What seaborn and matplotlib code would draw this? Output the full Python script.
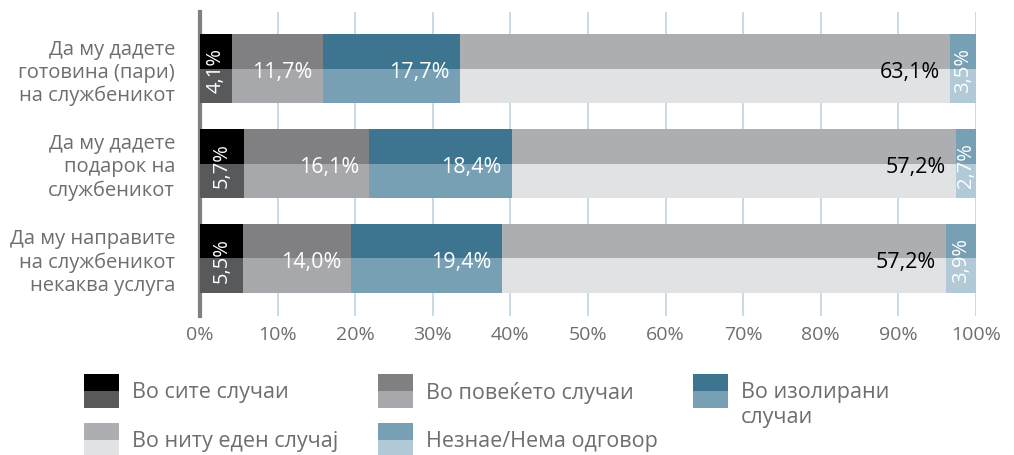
import numpy as np
import pandas as pd
import seaborn as sns
import matplotlib.pyplot as plt
from matplotlib.patches import Rectangle

# податоци
questions = ['Да му дадете\nготовина (пари)\nна службеникот',
             'Да му дадете\nподарок на\nслужбеникот',
             'Да му направите\nна службеникот\nнекаква услуга']
categories = ['Во сите случаи', 'Во повеќето случаи', 'Во изолирани\nслучаи',
              'Во ниту еден случај', 'Незнае/Нема одговор']
values = np.array([[4.1, 11.7, 17.7, 63.1, 3.5],
                   [5.7, 16.1, 18.4, 57.2, 2.7],
                   [5.5, 14.0, 19.4, 57.2, 3.9]])
labels = [['4,1%', '11,7%', '17,7%', '63,1%', '3,5%'],
          ['5,7%', '16,1%', '18,4%', '57,2%', '2,7%'],
          ['5,5%', '14,0%', '19,4%', '57,2%', '3,9%']]
top_colors = ['#000000', '#808083', '#3d7590', '#adaeb1', '#77a0b5']
bottom_colors = ['#58595b', '#a7a8ab', '#77a0b5', '#e1e2e4', '#b2cad7']
label_colors = ['white', 'white', 'white', 'black', 'white']
rotated = [True, False, False, False, True]

sns.set_theme(style='white')
plt.rcParams['font.family'] = ['Open Sans', 'DejaVu Sans']
grey = '#6d6e71'

W, H = 1014, 455
fig = plt.figure(figsize=(W / 100, H / 100), dpi=100)
ax = fig.add_axes([200 / W, 1 - 316 / H, 776 / W, 304 / H])

cum = values.cumsum(axis=1)
left = cum - values

# слоеви од последниот кон првиот, секој со горна/долна половина
for j in range(len(categories) - 1, -1, -1):
    df = pd.DataFrame({
        'q': np.repeat(questions, 2),
        'half': ['top', 'bottom'] * len(questions),
        'v': np.repeat(cum[:, j], 2),
    })
    sns.barplot(data=df, x='v', y='q', hue='half', hue_order=['top', 'bottom'],
                palette=[top_colors[j], bottom_colors[j]], orient='h',
                width=0.73, dodge=True, saturation=1, linewidth=0,
                legend=False, ax=ax, zorder=3)

# етикети
for i in range(len(questions)):
    for j in range(len(categories)):
        if rotated[j]:
            ax.text(left[i, j] + values[i, j] / 2, i + 0.02, labels[i][j],
                    rotation=90, ha='center', va='center', fontsize=14.5,
                    color=label_colors[j], zorder=5)
        else:
            ax.text(cum[i, j] - 1.3, i + 0.04, labels[i][j], ha='right',
                    va='center', fontsize=15.5, color=label_colors[j], zorder=5)

ax.set_xlim(0, 100)
ax.set_ylim(2.61, -0.60)
ax.set_xticks(np.arange(0, 101, 10))
ax.set_xticklabels([f'{t}%' for t in range(0, 101, 10)])
ax.tick_params(axis='x', colors=grey, labelsize=14, length=0, pad=7)
ax.tick_params(axis='y', colors=grey, labelsize=14.5, length=0, pad=18)
for lab in ax.get_yticklabels():
    lab.set_horizontalalignment('right')
    lab.set_linespacing(1.2)
ax.set_xlabel('')
ax.set_ylabel('')
ax.grid(axis='x', color='#c5d8e3', linewidth=1.3, zorder=0)
for s in ['top', 'right', 'bottom']:
    ax.spines[s].set_visible(False)
ax.spines['left'].set_color('#808083')
ax.spines['left'].set_linewidth(3)

# легенда
def px(x, y):
    return x / W, 1 - y / H

legend_pos = [(84, 374), (378, 374), (693, 374), (84, 423), (378, 423)]
for j, (x0, y0) in enumerate(legend_pos):
    for k, c in enumerate([top_colors[j], bottom_colors[j]]):
        fx, fy = px(x0, y0 + 17 * (k + 1))
        fig.add_artist(Rectangle((fx, fy), 35 / W, 17 / H, color=c,
                                 transform=fig.transFigure, lw=0))
    tx, ty = px(x0 + 48, y0 + 8)
    fig.text(tx, ty, categories[j], ha='left', va='top', fontsize=15.5,
             color=grey, linespacing=1.25)

fig.savefig('out.png', dpi=100)
